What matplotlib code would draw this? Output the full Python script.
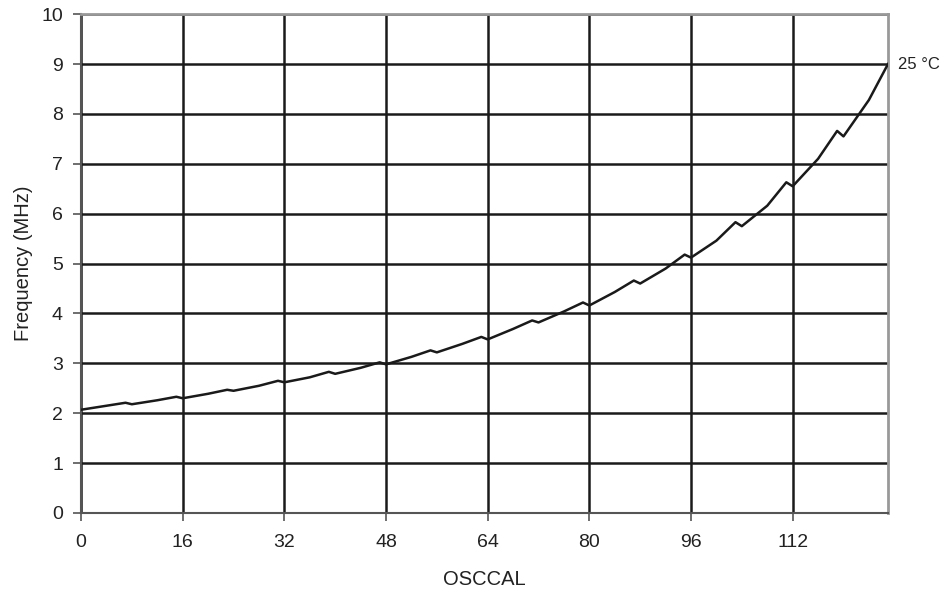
import matplotlib.pyplot as plt

plt.rcParams['font.family'] = ['Liberation Sans', 'DejaVu Sans']

# данные: значения на концах каждого участка по 8 шагов OSCCAL
osccal = [0, 4, 7, 8, 12, 15, 16, 20, 23, 24, 28, 31,
          32, 36, 39, 40, 44, 47, 48, 52, 55, 56, 60, 63,
          64, 68, 71, 72, 76, 79, 80, 84, 87, 88, 92, 95,
          96, 100, 103, 104, 108, 111, 112, 116, 119, 120, 124, 127]
freq = [2.07, 2.15, 2.21, 2.18, 2.26, 2.33, 2.30, 2.39, 2.47, 2.45, 2.55, 2.65,
        2.62, 2.72, 2.83, 2.79, 2.91, 3.02, 2.98, 3.13, 3.26, 3.22, 3.39, 3.53,
        3.48, 3.69, 3.86, 3.82, 4.04, 4.22, 4.16, 4.43, 4.66, 4.60, 4.90, 5.18,
        5.12, 5.46, 5.83, 5.75, 6.16, 6.63, 6.55, 7.10, 7.66, 7.55, 8.28, 9.00]

x_ticks = [0, 16, 32, 48, 64, 80, 96, 112]
y_ticks = list(range(0, 11))
label = "25 °C"

fig = plt.figure(figsize=(9.5, 5.91), dpi=100)
ax = fig.add_axes([0.0853, 0.132, 0.8494, 0.844])

ax.plot(osccal, freq, color="#1a1a1a", lw=1.8, zorder=3)

ax.set_xlim(0, 127)
ax.set_ylim(0, 10)
ax.set_xticks(x_ticks)
ax.set_yticks(y_ticks)

# сетка
ax.grid(True, color="#1a1a1a", lw=1.8, zorder=1)
ax.set_axisbelow(True)

for side in ("left", "bottom"):
    ax.spines[side].set_color("#555555")
    ax.spines[side].set_linewidth(1.5)
for side in ("top", "right"):
    ax.spines[side].set_color("#999999")
    ax.spines[side].set_linewidth(2)

ax.tick_params(direction="out", length=6, width=1.2, color="#555555",
               labelsize=14, labelcolor="#222222", pad=7)
ax.tick_params(axis="x", pad=9)

ax.set_xlabel("OSCCAL", fontsize=14.5, color="#222222", labelpad=14)
ax.set_ylabel("Frequency (MHz)", fontsize=14.5, color="#222222", labelpad=6)

ax.text(1.012, freq[-1], label, transform=ax.get_yaxis_transform(),
        fontsize=12, color="#222222", va="center", ha="left", clip_on=False)

fig.savefig("out.png", dpi=100)
